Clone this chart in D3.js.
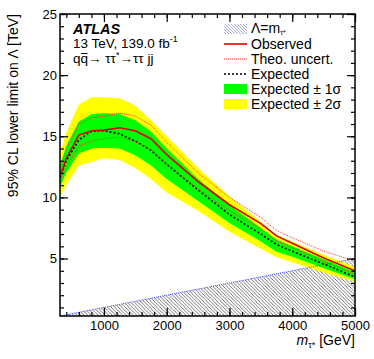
<!DOCTYPE html>
<html><head><meta charset="utf-8">
<script src="https://cdn.jsdelivr.net/npm/d3@7"></script>
<style>
html,body{margin:0;padding:0;background:#fff;}
svg text{font-family:"Liberation Sans",Arial,Helvetica,sans-serif;fill:#000;}
</style></head>
<body>
<svg id="chart" width="374" height="359"></svg>
<script>
// ---- data (m in GeV, limits in TeV) ----
const masses    = [300, 400, 600, 800, 1000, 1250, 1500, 1750, 2000, 2500, 3000, 3500, 3750, 4000, 4500, 5000];
const observed  = [11.7, 13.2, 15.1, 15.45, 15.5, 15.7, 15.45, 14.8, 13.5, 11.3, 9.4, 7.85, 6.85, 6.25, 5.05, 4.0];
const expected  = [11.6, 13.0, 14.7, 15.4, 15.45, 15.2, 14.6, 13.85, 12.7, 10.6, 8.6, 7.0, 6.15, 5.6, 4.55, 3.5];
const exp1sDown = [10.8, 12.0, 13.6, 14.0, 14.05, 14.0, 13.45, 12.6, 11.5, 9.7, 7.9, 6.4, 5.55, 5.15, 4.2, 3.3];
const exp1sUp   = [12.6, 14.2, 16.2, 16.8, 16.9, 16.8, 16.3, 15.4, 14.0, 11.5, 9.35, 7.5, 6.55, 6.0, 4.95, 3.9];
const exp2sDown = [10.0, 11.0, 12.6, 12.9, 13.2, 13.05, 12.4, 11.5, 10.4, 8.9, 7.2, 5.8, 5.1, 4.7, 3.85, 3.1];
const exp2sUp   = [13.6, 15.3, 17.6, 18.2, 18.2, 18.1, 17.5, 16.3, 15.0, 12.4, 10.1, 8.0, 6.95, 6.4, 5.3, 4.3];
const theoUp    = [12.3, 13.9, 16.0, 16.5, 16.65, 16.9, 16.65, 15.9, 14.5, 12.0, 10.0, 8.35, 7.3, 6.7, 5.6, 4.8];
const theoDown  = [11.1, 12.5, 14.2, 14.6, 14.8, 14.95, 14.55, 13.9, 12.7, 10.7, 8.9, 7.45, 6.45, 5.9, 4.75, 3.7];
const diagMass  = [300, 5000];            // Lambda = m_tau* boundary
const xDomain   = [300, 5000];
const yDomain   = [0.3, 25];
const xMajor    = [1000, 2000, 3000, 4000, 5000];
const xMinor    = d3.range(400, 5001, 200);
const yMajor    = [5, 10, 15, 20, 25];
const yMinor    = d3.range(1, 25.01, 1);
const legendLabels = ["Observed", "Theo. uncert.", "Expected", "Expected \u00b1 1\u03c3", "Expected \u00b1 2\u03c3"];

// ---- layout ----
const L = 60, R = 355, T = 14, B = 316;
const svg = d3.select("#chart");
const x = d3.scaleLinear().domain(xDomain).range([L, R]);
const y = d3.scaleLinear().domain(yDomain).range([B, T]);

const rows = masses.map((m, i) => ({m, obs: observed[i], exp: expected[i], g0: exp1sDown[i], g1: exp1sUp[i],
  y0: exp2sDown[i], y1: exp2sUp[i], tu: theoUp[i], td: theoDown[i]}));

const defs = svg.append("defs");
const hp = defs.append("pattern").attr("id", "hatch").attr("patternUnits", "userSpaceOnUse").attr("width", 3.5).attr("height", 3.5);
hp.append("path").attr("d", "M-1,-1 L4.5,4.5 M-1,2.5 L1,4.5 M2.5,-1 L4.5,1").attr("stroke", "#555").attr("stroke-width", 0.8);
const hp2 = defs.append("pattern").attr("id", "hatchL").attr("patternUnits", "userSpaceOnUse").attr("width", 3).attr("height", 3);
hp2.append("path").attr("d", "M-1,-1 L4,4 M-1,2 L1,4 M2,-1 L4,1").attr("stroke", "#8890d0").attr("stroke-width", 0.8);
defs.append("clipPath").attr("id", "clip").append("rect").attr("x", L).attr("y", T).attr("width", R - L).attr("height", B - T);

const plot = svg.append("g").attr("clip-path", "url(#clip)");

// hatched excluded region Lambda < m
const diag = diagMass.map(m => ({m, v: m / 1000}));
plot.append("path").datum(diag)
  .attr("d", d3.area().x(d => x(d.m)).y0(y(yDomain[0])).y1(d => y(d.v)))
  .attr("fill", "url(#hatch)");

// bands
plot.append("path").datum(rows)
  .attr("d", d3.area().x(d => x(d.m)).y0(d => y(d.y0)).y1(d => y(d.y1)))
  .attr("fill", "#ffff00");
plot.append("path").datum(rows)
  .attr("d", d3.area().x(d => x(d.m)).y0(d => y(d.g0)).y1(d => y(d.g1)))
  .attr("fill", "#00ff00");

// diagonal line
plot.append("path").datum(diag)
  .attr("d", d3.line().x(d => x(d.m)).y(d => y(d.v)))
  .attr("fill", "none").attr("stroke", "#4040ff").attr("stroke-width", 1).attr("stroke-dasharray", "1,1");

// expected
plot.append("path").datum(rows)
  .attr("d", d3.line().x(d => x(d.m)).y(d => y(d.exp)))
  .attr("fill", "none").attr("stroke", "#000").attr("stroke-width", 1.6).attr("stroke-dasharray", "2,2");
// theory
["tu", "td"].forEach(k => {
  plot.append("path").datum(rows)
    .attr("d", d3.line().x(d => x(d.m)).y(d => y(d[k])))
    .attr("fill", "none").attr("stroke", "#ff3030").attr("stroke-width", 1).attr("stroke-dasharray", "1,1");
});
// observed
plot.append("path").datum(rows)
  .attr("d", d3.line().x(d => x(d.m)).y(d => y(d.obs)))
  .attr("fill", "none").attr("stroke", "#e00000").attr("stroke-width", 1.6);

// ---- axes (ROOT style, inward ticks on all sides) ----
function styleAxis(g){ g.select(".domain").remove(); g.selectAll(".tick line").attr("stroke", "#000").attr("stroke-width", 1.2); }
svg.append("g").attr("transform", `translate(0,${B})`)
  .call(d3.axisBottom(x).tickValues(xMinor).tickSize(-4).tickFormat("")).call(styleAxis);
svg.append("g").attr("transform", `translate(0,${B})`)
  .call(d3.axisBottom(x).tickValues(xMajor).tickSize(-8).tickPadding(5).tickFormat(d3.format("d"))).call(styleAxis)
  .selectAll("text").attr("font-size", 13).attr("font-family", "Liberation Sans, Arial, sans-serif");
svg.append("g").attr("transform", `translate(0,${T})`)
  .call(d3.axisTop(x).tickValues(xMinor).tickSize(-4).tickFormat("")).call(styleAxis);
svg.append("g").attr("transform", `translate(0,${T})`)
  .call(d3.axisTop(x).tickValues(xMajor).tickSize(-8).tickFormat("")).call(styleAxis);
svg.append("g").attr("transform", `translate(${L},0)`)
  .call(d3.axisLeft(y).tickValues(yMinor).tickSize(-4).tickFormat("")).call(styleAxis);
svg.append("g").attr("transform", `translate(${L},0)`)
  .call(d3.axisLeft(y).tickValues(yMajor).tickSize(-8).tickPadding(3).tickFormat(d3.format("d"))).call(styleAxis)
  .selectAll("text").attr("font-size", 13).attr("font-family", "Liberation Sans, Arial, sans-serif");
svg.append("g").attr("transform", `translate(${R},0)`)
  .call(d3.axisRight(y).tickValues(yMinor).tickSize(-4).tickFormat("")).call(styleAxis);
svg.append("g").attr("transform", `translate(${R},0)`)
  .call(d3.axisRight(y).tickValues(yMajor).tickSize(-8).tickFormat("")).call(styleAxis);

svg.append("rect").attr("x", L).attr("y", T).attr("width", R - L).attr("height", B - T)
  .attr("fill", "none").attr("stroke", "#000").attr("stroke-width", 1.5);

// ---- axis titles ----
svg.append("text").attr("transform", `translate(18,${T}) rotate(-90)`).attr("text-anchor", "end")
  .attr("font-size", 14).text("95% CL lower limit on \u039b [TeV]");
const xt = svg.append("text").attr("x", R).attr("y", 345).attr("text-anchor", "end").attr("font-size", 14);
xt.append("tspan").attr("font-style", "italic").text("m");
xt.append("tspan").attr("font-size", 9).attr("dy", 3).text("\u03c4*");
xt.append("tspan").attr("dy", -3).text(" [GeV]");

// ---- ATLAS label ----
svg.append("text").attr("x", 73).attr("y", 34).attr("font-size", 14.5).attr("font-weight", "bold").attr("font-style", "italic").text("ATLAS");
const l2 = svg.append("text").attr("x", 73).attr("y", 48).attr("font-size", 13.5);
l2.append("tspan").text("13 TeV, 139.0 fb");
l2.append("tspan").attr("font-size", 9).attr("dy", -6).text("-1");
const l3 = svg.append("text").attr("x", 73).attr("y", 63).attr("font-size", 13.5);
const q1 = l3.append("tspan").text("q");
const q2 = l3.append("tspan").text("q");
l3.append("tspan").text("\u2192  \u03c4\u03c4");
l3.append("tspan").attr("font-size", 9).attr("dy", -5).text("*");
l3.append("tspan").attr("dy", 5).text("\u2192\u03c4\u03c4 jj");
// overline over the anti-quark
{
  const w1 = q1.node().getComputedTextLength();
  const w2 = q2.node().getComputedTextLength();
  svg.append("line").attr("x1", 73 + w1 + 0.5).attr("x2", 73 + w1 + w2 - 0.5)
    .attr("y1", 63 - 9.5).attr("y2", 63 - 9.5).attr("stroke", "#000").attr("stroke-width", 1);
}

// ---- legend ----
const lx0 = 224, lx1 = 247, tx = 251;
const lg = svg.append("g");
lg.append("rect").attr("x", lx0).attr("y", 24).attr("width", lx1 - lx0).attr("height", 10).attr("fill", "url(#hatchL)");
const t0 = lg.append("text").attr("x", tx).attr("y", 33).attr("font-size", 14);
t0.append("tspan").text("\u039b=m");
t0.append("tspan").attr("font-size", 7).attr("dy", 2).text("\u03c4*");
const ly = [44, 59, 74, 89, 104];
lg.append("line").attr("x1", lx0).attr("x2", lx1).attr("y1", ly[0]).attr("y2", ly[0]).attr("stroke", "#e00000").attr("stroke-width", 1.6);
lg.append("line").attr("x1", lx0).attr("x2", lx1).attr("y1", ly[1]).attr("y2", ly[1]).attr("stroke", "#ff3030").attr("stroke-width", 1).attr("stroke-dasharray", "1,1");
lg.append("line").attr("x1", lx0).attr("x2", lx1).attr("y1", ly[2]).attr("y2", ly[2]).attr("stroke", "#000").attr("stroke-width", 1.6).attr("stroke-dasharray", "2,2");
lg.append("rect").attr("x", lx0).attr("y", ly[3] - 5).attr("width", lx1 - lx0).attr("height", 10).attr("fill", "#00ff00");
lg.append("rect").attr("x", lx0).attr("y", ly[4] - 5).attr("width", lx1 - lx0).attr("height", 10).attr("fill", "#ffff00");
legendLabels.forEach((s, i) => {
  lg.append("text").attr("x", tx).attr("y", ly[i] + 5).attr("font-size", 14).text(s);
});
</script>
</body></html>
